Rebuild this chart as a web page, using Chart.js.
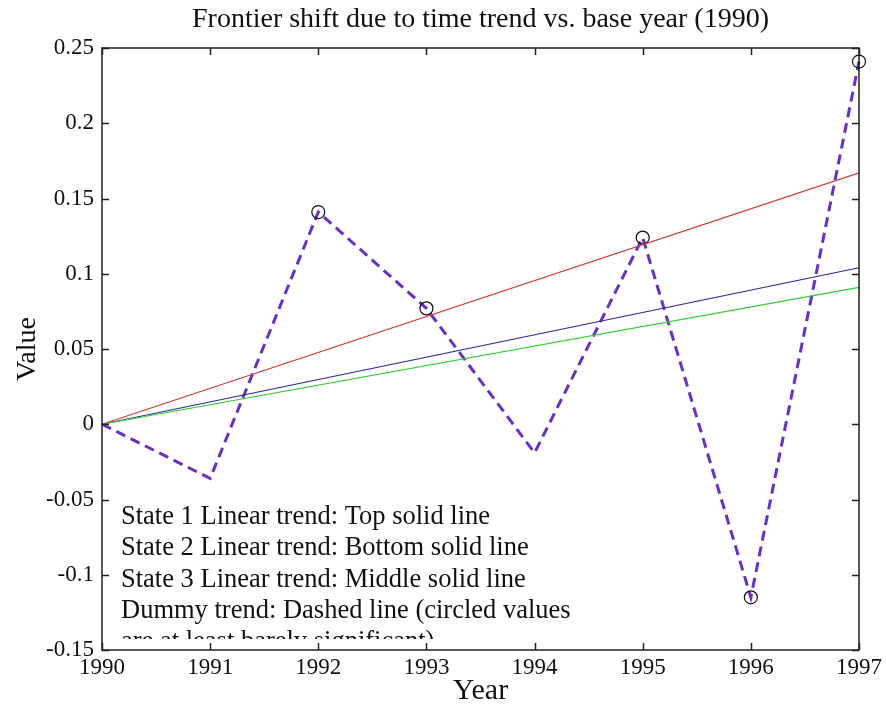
<!DOCTYPE html>
<html>
<head>
<meta charset="utf-8">
<script src="https://cdn.jsdelivr.net/npm/chart.js@4/dist/chart.umd.min.js"></script>
<style>
  body { margin: 0; background: #fff; }
  canvas { display: block; }
</style>
</head>
<body>
<canvas id="frontierChart" width="886" height="711"></canvas>
<script>
// Years on the x axis and tick values for the y axis
const years = [1990, 1991, 1992, 1993, 1994, 1995, 1996, 1997];
const yTicks = [-0.15, -0.1, -0.05, 0, 0.05, 0.1, 0.15, 0.2, 0.25];

// Dummy trend (dashed), circled values are the significant ones
const dummyTrend = [0, -0.036, 0.141, 0.077, -0.019, 0.124, -0.115, 0.241];
const circled = [false, false, true, true, false, true, true, true];

// Linear trends, start and end year
const trendYears = [1990, 1997];
const state1Trend = [0, 0.167];   // top
const state2Trend = [0, 0.091];   // bottom
const state3Trend = [0, 0.104];   // middle

const noteLines = [
    'State 1 Linear trend: Top solid line',
    'State 2 Linear trend: Bottom solid line',
    'State 3 Linear trend: Middle solid line',
    'Dummy trend: Dashed line (circled values',
    'are at least barely significant)'
];

const serif = '"Liberation Serif", "Times New Roman", serif';

const toPoints = (xs, ys) => xs.map((x, i) => ({ x: x, y: ys[i] }));

// frame with inward ticks on all four sides, title and the note text
const framePlugin = {
    id: 'frame',
    afterDraw(chart) {
        const ctx = chart.ctx;
        const a = chart.chartArea;
        const xs = chart.scales.x;
        const ys = chart.scales.y;
        const t = 7;
        ctx.save();
        ctx.strokeStyle = '#222';
        ctx.lineWidth = 1.5;
        ctx.strokeRect(a.left, a.top, a.right - a.left, a.bottom - a.top);
        ctx.beginPath();
        years.forEach(v => {
            const px = Math.round(xs.getPixelForValue(v)) + 0.5;
            ctx.moveTo(px, a.bottom); ctx.lineTo(px, a.bottom - t);
            ctx.moveTo(px, a.top); ctx.lineTo(px, a.top + t);
        });
        yTicks.forEach(v => {
            const py = Math.round(ys.getPixelForValue(v)) + 0.5;
            ctx.moveTo(a.left, py); ctx.lineTo(a.left + t, py);
            ctx.moveTo(a.right, py); ctx.lineTo(a.right - t, py);
        });
        ctx.stroke();

        // title
        ctx.fillStyle = '#111';
        ctx.font = '28px ' + serif;
        ctx.textAlign = 'center';
        ctx.textBaseline = 'middle';
        ctx.fillText('Frontier shift due to time trend vs. base year (1990)', (a.left + a.right) / 2, 20);

        // note, the last line is cut off just above the x axis
        ctx.beginPath();
        ctx.rect(a.left, a.top, a.right - a.left, a.bottom - a.top - 11);
        ctx.clip();
        ctx.font = '26.5px ' + serif;
        ctx.textAlign = 'left';
        noteLines.forEach((s, i) => ctx.fillText(s, 121, 517 + i * 31.3));
        ctx.restore();
    }
};

new Chart(document.getElementById('frontierChart'), {
    type: 'line',
    data: {
        datasets: [
            {
                label: 'State 1',
                data: toPoints(trendYears, state1Trend),
                borderColor: '#d0403a',
                borderWidth: 1.2,
                pointRadius: 0
            },
            {
                label: 'State 2',
                data: toPoints(trendYears, state2Trend),
                borderColor: '#2fd02f',
                borderWidth: 1.2,
                pointRadius: 0
            },
            {
                label: 'State 3',
                data: toPoints(trendYears, state3Trend),
                borderColor: '#2a2a9a',
                borderWidth: 1.2,
                pointRadius: 0
            },
            {
                label: 'Dummy',
                data: toPoints(years, dummyTrend),
                borderColor: '#6630cc',
                borderWidth: 3,
                borderDash: [10, 6],
                pointRadius: ctx => circled[ctx.dataIndex] ? 6.5 : 0,
                pointBorderColor: '#111',
                pointBorderWidth: 1.2,
                pointBackgroundColor: 'rgba(0,0,0,0)'
            }
        ]
    },
    options: {
        responsive: false,
        animation: false,
        devicePixelRatio: 1,
        clip: false,
        layout: { padding: { top: 48, right: 23, left: 0, bottom: 0 } },
        plugins: {
            legend: { display: false },
            tooltip: { enabled: false }
        },
        scales: {
            x: {
                type: 'linear',
                min: 1990,
                max: 1997,
                afterFit: s => { s.height = 61; },
                afterBuildTicks: s => { s.ticks = years.map(v => ({ value: v })); },
                grid: { display: false, drawTicks: false },
                border: { display: false },
                ticks: {
                    padding: 4,
                    color: '#111',
                    font: { family: serif, size: 23 },
                    callback: v => String(v)
                },
                title: {
                    display: true,
                    text: 'Year',
                    color: '#111',
                    font: { family: serif, size: 30 },
                    padding: { top: 0, bottom: 2 }
                }
            },
            y: {
                min: -0.15,
                max: 0.25,
                afterFit: s => { s.width = 102; },
                afterBuildTicks: s => { s.ticks = yTicks.map(v => ({ value: v })); },
                grid: { display: false, drawTicks: false },
                border: { display: false },
                ticks: {
                    padding: 8,
                    color: '#111',
                    font: { family: serif, size: 23 },
                    callback: v => String(Math.round(v * 100) / 100 || 0)
                },
                title: {
                    display: true,
                    text: 'Value',
                    color: '#111',
                    font: { family: serif, size: 28 },
                    padding: { top: 11, bottom: 0 }
                }
            }
        }
    },
    plugins: [framePlugin]
});
</script>
</body>
</html>
